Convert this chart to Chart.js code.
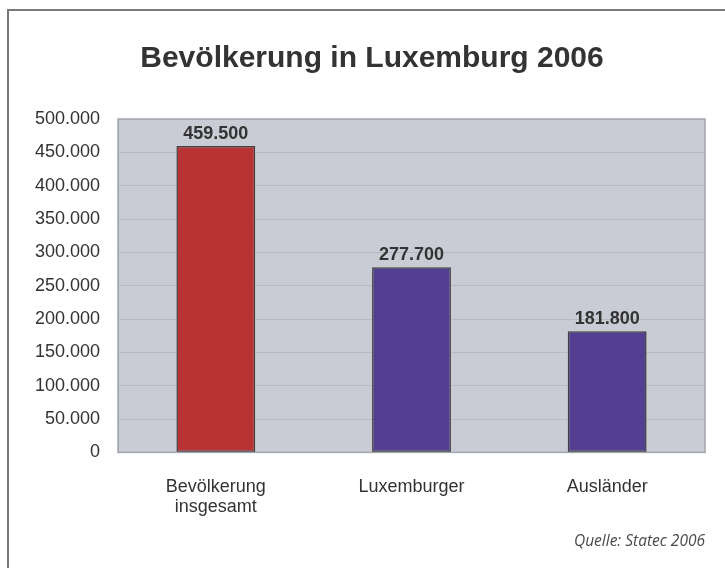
<!DOCTYPE html>
<html>
<head>
<meta charset="utf-8">
<title>Bevölkerung in Luxemburg 2006</title>
<script src="https://cdn.jsdelivr.net/npm/chart.js@4"></script>
<style>
  html, body { margin: 0; padding: 0; background: #fff; }
  #wrap { position: relative; width: 725px; height: 568px; overflow: hidden; }
  #frame {
    position: absolute; left: 7px; top: 9px; width: 740px; height: 580px;
    border-left: 2px solid #7a7a7a; border-top: 2px solid #7a7a7a;
    pointer-events: none;
  }
</style>
</head>
<body>
<div id="wrap">
  <canvas id="chart" width="725" height="568"></canvas>
  <div id="frame"></div>
</div>

<script>
  // chart data
  const chartTitle = "Bevölkerung in Luxemburg 2006";
  const sourceNote = "Quelle: Statec 2006";
  const categories = [["Bevölkerung", "insgesamt"], "Luxemburger", "Ausländer"];
  const population = [459500, 277700, 181800];
  const barColors = ["#b83434", "#533e92", "#533e92"];
  const yTicks = [0, 50000, 100000, 150000, 200000, 250000, 300000, 350000, 400000, 450000, 500000];

  const FONT = "Arial, 'Liberation Sans', sans-serif";

  // 459500 -> "459.500"
  function fmt(v) {
    return String(v).replace(/\B(?=(\d{3})+(?!\d))/g, ".");
  }

  // grey plot background + title (title sits a bit left of the plot centre)
  const plotBg = {
    id: "plotBg",
    beforeDraw(chart) {
      const a = chart.chartArea, ctx = chart.ctx;
      ctx.save();
      ctx.fillStyle = "#c9ccd4";
      ctx.fillRect(a.left, a.top, a.right - a.left, a.bottom - a.top);
      ctx.font = "bold 30px " + FONT;
      ctx.fillStyle = "#333";
      ctx.textAlign = "center";
      ctx.textBaseline = "alphabetic";
      ctx.fillText(chartTitle, 372, 67);
      ctx.restore();
    },
    afterDraw(chart) {
      const a = chart.chartArea, ctx = chart.ctx;
      ctx.save();
      ctx.strokeStyle = "#a3a6ad";
      ctx.lineWidth = 1.5;
      ctx.strokeRect(a.left, a.top, a.right - a.left, a.bottom - a.top);
      ctx.restore();
    }
  };

  // value labels above bars
  const valueLabels = {
    id: "valueLabels",
    afterDatasetsDraw(chart) {
      const ctx = chart.ctx;
      const meta = chart.getDatasetMeta(0);
      ctx.save();
      ctx.font = "bold 18px " + FONT;
      ctx.fillStyle = "#333";
      ctx.textAlign = "center";
      ctx.textBaseline = "alphabetic";
      meta.data.forEach((bar, i) => {
        ctx.fillText(fmt(population[i]), bar.x, bar.y - 7);
      });
      ctx.restore();
    }
  };

  new Chart(document.getElementById("chart"), {
    type: "bar",
    data: {
      labels: categories,
      datasets: [{
        data: population,
        backgroundColor: barColors,
        borderColor: "#3f3f3f",
        borderWidth: 1.5,
        borderSkipped: false,
        categoryPercentage: 1,
        barPercentage: 0.403
      }]
    },
    options: {
      responsive: false,
      animation: false,
      layout: { padding: { left: 0, right: 20, top: 119, bottom: 0 } },
      plugins: {
        legend: { display: false },
        tooltip: { enabled: false },
        title: { display: false },
        subtitle: {
          display: true,
          position: "bottom",
          align: "end",
          text: sourceNote,
          color: "#4a4a4a",
          font: { family: "'Open Sans', Lato, sans-serif", size: 15.5, style: "italic", weight: "normal", lineHeight: 1.2 },
          padding: { top: 8, bottom: 17 }
        }
      },
      scales: {
        x: {
          grid: { display: false, drawTicks: false },
          border: { display: true, color: "#a3a6ad" },
          ticks: {
            color: "#333",
            font: { family: FONT, size: 18, lineHeight: 1.1 },
            padding: 25,
            maxRotation: 0
          },
          afterFit(scale) { scale.height = 72; }
        },
        y: {
          min: 0,
          max: 500000,
          afterBuildTicks(scale) { scale.ticks = yTicks.map(v => ({ value: v })); },
          grid: { color: "#b7bac1", drawTicks: false },
          border: { display: true, color: "#a3a6ad" },
          ticks: {
            color: "#333",
            font: { family: FONT, size: 18 },
            padding: 18,
            callback: v => fmt(v)
          },
          afterFit(scale) { scale.width = 118; }
        }
      }
    },
    plugins: [plotBg, valueLabels]
  });
</script>
</body>
</html>
